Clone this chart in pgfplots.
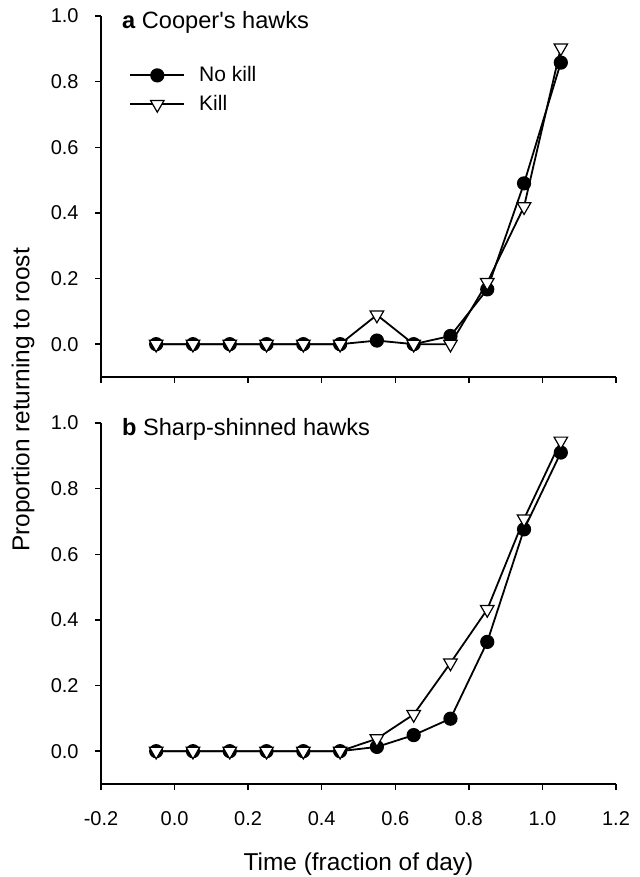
\documentclass[border=0pt]{standalone}
\usepackage{fontspec}
\setmainfont{Liberation Sans}
\usepackage{pgfplots}
\pgfplotsset{compat=1.18}

% both panels share one look
\pgfplotsset{
  hawkpanel/.style={
    scale only axis,
    width=257.5pt, height=180.5pt,
    anchor=south west,
    xmin=-0.2, xmax=1.2, ymin=-0.1, ymax=1.0,
    axis x line*=bottom, axis y line*=left,
    axis line style={line width=0.8pt, -},
    xtick={-0.2,0,0.2,0.4,0.6,0.8,1.0,1.2},
    ytick={0,0.2,0.4,0.6,0.8,1.0},
    tick align=outside, major tick length=3pt,
    tick style={line width=0.7pt, black},
    /pgf/number format/assume math mode=true,
    /pgf/number format/.cd, fixed, fixed zerofill, precision=1, /pgfplots/.cd,
    tick label style={font=\fontsize{10}{12}\selectfont},
    y tick label style={anchor=east, inner sep=0pt, xshift=-8pt},
    x tick label style={anchor=center, inner sep=0pt, yshift=-14.5pt},
    clip=false,
    every axis plot/.append style={line width=0.9pt, black},
  },
  nokill/.style={mark=*, mark size=3.1pt, mark options={fill=black}},
  kill/.style={mark=triangle*, mark size=3.9pt, mark options={rotate=180, fill=white, line width=0.6pt}},
}
\tikzset{paneltitle/.style={anchor=base west, xshift=7pt, yshift=-6.5pt,
  font=\fontsize{11.8}{14}\selectfont}}

\begin{document}
\begin{tikzpicture}
\useasboundingbox (0,0) rectangle (320pt,438.5pt);

% a: Cooper's hawks
\begin{axis}[hawkpanel, at={(50.5pt,250pt)}, xticklabels={},
  legend style={draw=none, fill=none, at={(0,1)}, anchor=north west,
    xshift=11pt, yshift=-22.5pt, row sep=4.5pt, column sep=7pt,
    nodes={inner sep=0pt, text height=8pt, text depth=2pt,
      font=\fontsize{10.5}{12}\selectfont}},
  legend cell align=left,
  legend image code/.code={\draw[mark repeat=2, mark phase=2, #1]
    plot coordinates {(0pt,0pt) (13.5pt,0pt) (27pt,0pt)};}]
\addplot[nokill] coordinates {(-0.05,0) (0.05,0) (0.15,0) (0.25,0) (0.35,0) (0.45,0)
  (0.55,0.011) (0.65,0) (0.75,0.025) (0.85,0.167) (0.95,0.49) (1.05,0.858)};
\addplot[kill] coordinates {(-0.05,0) (0.05,0) (0.15,0) (0.25,0) (0.35,0) (0.45,0)
  (0.55,0.089) (0.65,0) (0.75,0) (0.85,0.188) (0.95,0.419) (1.05,0.903)};
\legend{No kill, Kill}
\node[paneltitle] at (rel axis cs:0,1) {\textbf{a} Cooper\textquotesingle s hawks};
\end{axis}

% b: Sharp-shinned hawks
\begin{axis}[hawkpanel, at={(50.5pt,46.5pt)},
  xlabel={Time (fraction of day)},
  xlabel style={at={(axis description cs:0.5,0)}, anchor=base, yshift=-43pt,
    font=\fontsize{12.2}{14}\selectfont}]
\addplot[nokill] coordinates {(-0.05,0) (0.05,0) (0.15,0) (0.25,0) (0.35,0) (0.45,0)
  (0.55,0.013) (0.65,0.049) (0.75,0.099) (0.85,0.333) (0.95,0.676) (1.05,0.91)};
\addplot[kill] coordinates {(-0.05,0) (0.05,0) (0.15,0) (0.25,0) (0.35,0) (0.45,0)
  (0.55,0.038) (0.65,0.112) (0.75,0.269) (0.85,0.432) (0.95,0.708) (1.05,0.945)};
\node[paneltitle] at (rel axis cs:0,1) {\textbf{b} Sharp-shinned hawks};
\end{axis}

\node[rotate=90, font=\fontsize{12.2}{14}\selectfont] at (11.5pt,238.5pt)
  {Proportion returning to roost};
\end{tikzpicture}
\end{document}
